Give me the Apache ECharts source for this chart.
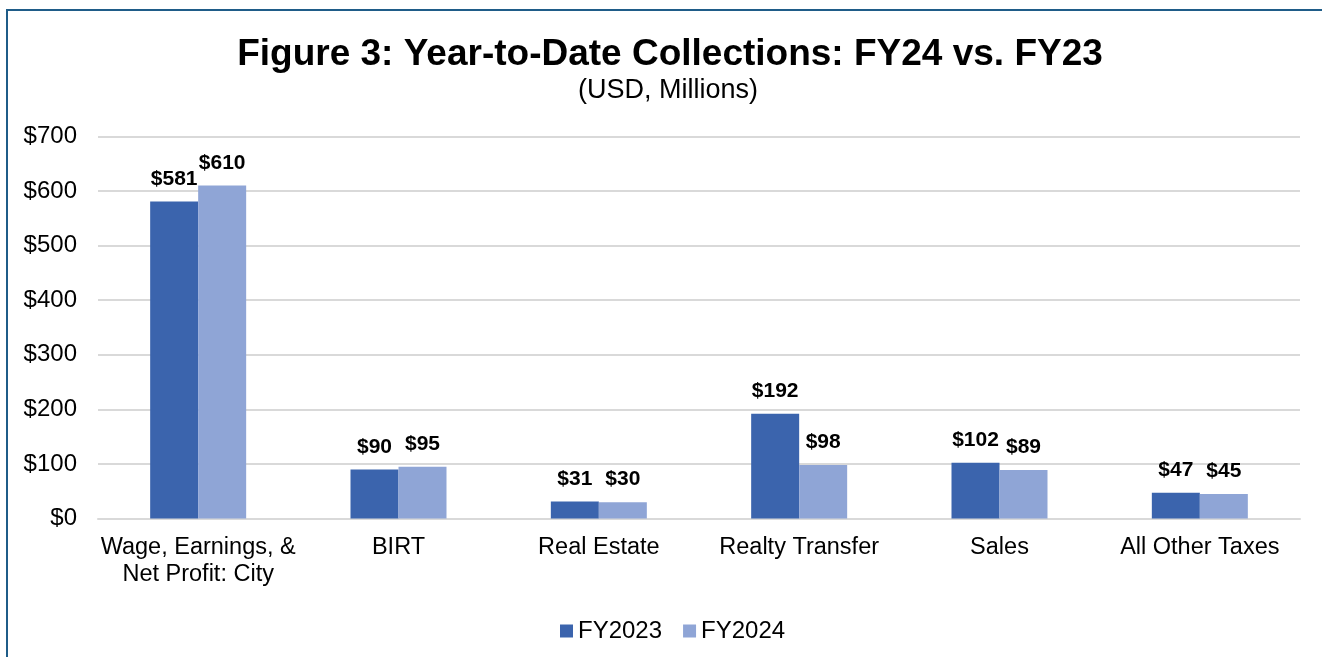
<!DOCTYPE html>
<html lang="en" style="height: 100%">
    <head>
        <meta charset="utf-8" />
    </head>
    <body style="height: 100%; margin: 0; background: #fff">
        <div id="container" style="width: 1322px; height: 657px"></div>

        <script
            type="text/javascript"
            src="https://fastly.jsdelivr.net/npm/echarts@6/dist/echarts.min.js"
        ></script>

        <script type="text/javascript">
            var categories = [
                'Wage, Earnings, &\nNet Profit: City',
                'BIRT',
                'Real Estate',
                'Realty Transfer',
                'Sales',
                'All Other Taxes'
            ];
            var fy2023 = [581, 90, 31, 192, 102, 47];
            var fy2024 = [610, 95, 30, 98, 89, 45];
            var yTicks = [0, 100, 200, 300, 400, 500, 600, 700];

            var FONT = '"Liberation Sans", Arial, sans-serif';
            var dom = document.getElementById('container');
            var myChart = echarts.init(dom, null, { renderer: 'canvas' });

            var labelStyle = {
                show: true,
                position: 'top',
                distance: 12,
                fontFamily: FONT,
                fontWeight: 'bold',
                fontSize: 21,
                color: '#000',
                formatter: function (p) {
                    return '$' + p.value;
                }
            };

            var option = {
                animation: false,
                backgroundColor: '#fff',
                title: [
                    {
                        text: 'Figure 3: Year-to-Date Collections: FY24 vs. FY23',
                        left: 665,
                        top: 31,
                        textAlign: 'center',
                        textStyle: {
                            fontFamily: FONT,
                            fontWeight: 'bold',
                            fontSize: 37,
                            color: '#000'
                        }
                    },
                    {
                        text: '(USD, Millions)',
                        left: 663,
                        top: 72,
                        textAlign: 'center',
                        textStyle: {
                            fontFamily: FONT,
                            fontWeight: 'normal',
                            fontSize: 27,
                            color: '#000'
                        }
                    }
                ],
                legend: {
                    data: ['FY2023', 'FY2024'],
                    left: 555,
                    top: 614,
                    icon: 'rect',
                    itemWidth: 13,
                    itemHeight: 13,
                    itemGap: 21,
                    textStyle: {
                        fontFamily: FONT,
                        fontSize: 24,
                        color: '#000'
                    }
                },
                grid: {
                    left: 98,
                    right: 22,
                    top: 136.5,
                    bottom: 138.5,
                    containLabel: false
                },
                xAxis: {
                    type: 'category',
                    data: categories,
                    axisLine: { lineStyle: { color: '#d9d9d9', width: 2 } },
                    axisTick: { show: false },
                    axisLabel: {
                        margin: 16,
                        fontFamily: FONT,
                        fontSize: 23.5,
                        lineHeight: 27,
                        color: '#000',
                        interval: 0
                    }
                },
                yAxis: {
                    type: 'value',
                    min: yTicks[0],
                    max: yTicks[yTicks.length - 1],
                    interval: 100,
                    axisLine: { show: false },
                    axisTick: { show: false },
                    splitLine: { lineStyle: { color: '#d9d9d9', width: 2 } },
                    axisLabel: {
                        margin: 21,
                        fontFamily: FONT,
                        fontSize: 24,
                        color: '#000',
                        formatter: function (v) {
                            return '$' + v;
                        }
                    }
                },
                series: [
                    {
                        name: 'FY2023',
                        type: 'bar',
                        data: fy2023,
                        barWidth: 48,
                        barGap: '0%',
                        itemStyle: { color: '#3b64ad' },
                        label: labelStyle
                    },
                    {
                        name: 'FY2024',
                        type: 'bar',
                        data: fy2024,
                        barWidth: 48,
                        barGap: '0%',
                        itemStyle: { color: '#8fa5d6' },
                        label: labelStyle
                    }
                ],
                graphic: [
                    {
                        type: 'polyline',
                        shape: { points: [[7, 660], [7, 10], [1325, 10]] },
                        style: { stroke: '#1f5c88', lineWidth: 2, fill: null },
                        silent: true
                    }
                ]
            };

            myChart.setOption(option);
            window.addEventListener('resize', myChart.resize);
        </script>
    </body>
</html>
